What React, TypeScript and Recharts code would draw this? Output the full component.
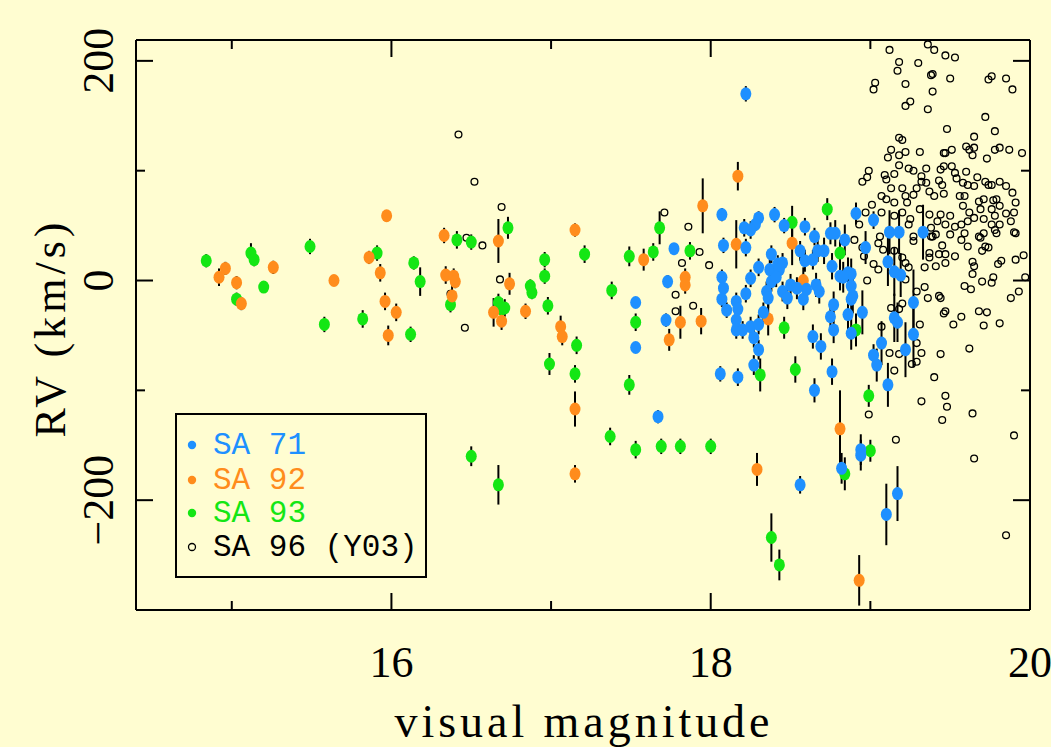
import { ScatterChart, Scatter, XAxis, YAxis, ErrorBar } from 'recharts'

const W = 1051
const H = 747
const BG = '#FFFDD1'
const BLUE = '#1E90FF'
const ORANGE = '#FF8C1C'
const GREEN = '#14E614'
const SERIF = '"Liberation Serif", "Times New Roman", serif'
const MONO = '"Liberation Mono", "Courier New", monospace'

// [visual magnitude, RV (km/s), RV error]
const SA71: number[][] = [
  [17.53, -20, 5], [17.53, -61, 5], [17.67, -124, 6], [17.72, -36, 6], [17.73, -1, 6], [17.77, 29, 5],
  [18.22, 170, 7], [18.07, 60, 6], [18.3, 57, 6], [18.28, 51, 6], [18.4, 60, 7], [18.59, 49, 8],
  [18.46, 50, 7], [18.91, 61, 10], [18.21, 48, 8], [18.08, 32, 7], [18.22, 30, 8], [18.25, 46, 8],
  [18.38, 24, 8], [18.3, 12, 8], [18.07, 3, 7], [18.25, 2, 8], [18.37, 10, 9], [18.42, 15, 8],
  [18.45, 16, 9], [18.56, 27, 9], [18.59, 18, 10], [18.64, 19, 9], [18.67, 27, 10], [18.71, 27, 12],
  [18.65, 40, 8], [18.75, 43, 10], [18.78, 43, 12], [18.84, 37, 14], [18.76, 13, 12], [18.81, 4, 13],
  [18.86, 7, 14], [18.88, 6, 14], [18.5, -4, 10], [18.54, -7, 10], [18.45, -10, 9], [18.38, -1, 9],
  [18.35, -10, 9], [18.36, -16, 9], [18.48, -16, 10], [18.58, -17, 10], [18.66, -4, 11], [18.68, -10, 11],
  [18.6, -8, 10], [18.08, -7, 7], [18.07, -17, 7], [18.1, -27, 7], [18.16, -19, 8], [18.17, -26, 8],
  [18.22, -12, 8], [18.33, -29, 9], [18.16, -36, 8], [18.16, -45, 8], [18.2, -45, 8], [18.25, -42, 9],
  [18.3, -40, 9], [18.27, -52, 9], [18.3, -63, 9], [18.27, -77, 9], [18.06, -85, 7], [18.17, -88, 8],
  [18.77, -22, 12], [18.75, -33, 12], [18.77, -45, 12], [18.64, -51, 11], [18.69, -60, 12], [18.86, -31, 15],
  [18.88, -48, 15], [18.88, -17, 15], [18.89, -14, 16], [18.88, -5, 15], [18.83, 3, 14], [18.76, -83, 12],
  [18.65, -100, 11], [18.43, 10, 9], [18.41, 3, 9], [18.56, -186, 8], [18.82, -171, 14], [18.94, -154, 14],
  [18.94, -159, 14], [18.97, 30, 15], [19.11, 17, 22], [19.15, 8, 22], [19.19, 5, 20], [19.27, -20, 30],
  [18.95, -29, 20], [19.15, -34, 22], [19.17, -38, 18], [19.27, -49, 30], [19.07, -57, 20], [19.02, -68, 10],
  [19.04, -77, 15], [19.22, -63, 25], [19.11, -95, 20], [19.17, -194, 25], [19.1, -213, 28], [19.02, 55, 8],
  [19.12, 44, 20], [19.18, 44, 20], [19.33, 44, 25],
]

const SA92: number[][] = [
  [14.92, 3, 8], [14.96, 11, 6], [15.03, -2, 6], [15.06, -21, 6], [15.26, 12, 6], [15.64, 0, 5],
  [15.97, 59, 5], [15.86, 21, 6], [15.93, 7, 8], [15.96, -19, 8], [16.03, -29, 8], [15.98, -50, 9],
  [16.33, 41, 7], [16.67, 36, 20], [17.15, 46, 6], [17.58, 19, 10], [17.95, 68, 25], [17.84, 3, 8],
  [17.84, -4, 8], [17.81, -38, 15], [17.94, -37, 12], [17.74, -54, 10], [16.34, 5, 8], [16.39, 4, 7],
  [16.4, -1, 6], [16.38, -14, 10], [16.74, -3, 10], [16.64, -29, 13], [16.69, -37, 8], [16.84, -28, 7],
  [17.06, -42, 10], [17.07, -51, 8], [17.15, -117, 16], [17.15, -176, 8], [18.17, 95, 13], [18.16, 33, 22],
  [18.51, 34, 20], [18.58, 0, 12], [18.36, -35, 15], [18.81, -135, 35], [18.29, -172, 15], [18.93, -273, 23],
]

const SA93: number[][] = [
  [14.84, 18, 6], [15.12, 25, 9], [15.14, 19, 6], [15.2, -6, 5], [15.03, -17, 6], [15.49, 31, 7],
  [15.58, -40, 7], [15.91, 25, 7], [15.82, -35, 8], [16.12, -49, 7], [16.14, 16, 6], [16.18, -1, 13],
  [16.41, 37, 8], [16.5, 35, 7], [16.73, 48, 10], [17.21, 24, 8], [17.49, 22, 9], [17.64, 26, 8],
  [17.68, 48, 15], [17.87, 27, 8], [17.53, -38, 8], [16.37, -22, 7], [16.87, -5, 6], [16.88, -11, 6],
  [16.96, 19, 7], [16.96, 4, 7], [16.67, -20, 8], [16.69, -26, 10], [16.71, -25, 8], [16.98, -23, 8],
  [17.38, -9, 8], [17.16, -59, 8], [16.99, -76, 10], [17.15, -85, 8], [17.49, -95, 9], [17.37, -142, 8],
  [17.53, -154, 8], [17.69, -151, 7], [17.81, -151, 7], [18.0, -151, 7], [16.5, -160, 9], [16.67, -186, 18],
  [18.51, 53, 15], [18.73, 65, 10], [18.81, 25, 12], [18.46, -43, 10], [18.53, -81, 12], [18.31, -86, 15],
  [18.91, -45, 15], [18.99, -105, 10], [19.0, -155, 10], [18.84, -176, 15], [18.38, -234, 22], [18.43, -259, 14],
]

// Y03 comparison sample: [visual magnitude, RV (km/s)]
const SA96: number[][] = [
  [16.42, 133], [16.52, 90], [16.69, 67], [16.47, 39], [16.57, 32], [16.37, -12], [16.46, -43], [16.68, 1],
  [17.71, 62], [17.86, 49], [17.93, 26], [17.82, 16], [17.99, 14], [17.78, -13], [17.89, -23], [17.78, -28],
  [18.9, 37], [18.95, 30], [18.96, 22], [18.98, 0], [18.93, 51],
  [19.16, -145], [19.65, -162], [19.9, -141], [19.85, -232], [19.45, -127],
  [19.34, -6], [19.36, -16], [19.2, -21], [19.13, -25], [19.18, -26], [19.43, -14], [19.44, -16], [19.46, -30],
  [19.47, -28], [19.52, -40], [19.57, -33], [19.68, -28], [19.73, -29], [19.71, -41], [19.81, -39], [19.88, -16],
  [19.93, -10], [19.97, 3], [19.96, 23], [19.91, 19], [19.31, -40], [19.29, -57], [19.32, -66], [19.29, -74],
  [19.26, -76], [19.44, -67], [19.62, -62], [19.4, -88], [19.12, -66], [19.18, -67], [19.15, -82], [19.47, -105],
  [19.48, -115], [19.32, -110], [19.64, -121], [18.99, -122], [19.07, -42], [19.59, -5], [19.63, -8], [19.7, -1],
  [19.76, -2], [19.77, 3], [19.8, 15], [19.82, 18], [19.65, 13], [19.64, 6], [19.53, 22], [19.47, 16],
  [19.41, 13], [19.37, 21], [19.34, 12], [19.24, 12], [19.2, 21], [19.02, 15], [19.05, 10], [19.22, 1], [19.29, -10],
  [19.06, 40], [19.05, 34], [19.27, 36], [19.38, 40], [19.41, 42], [19.45, 32], [19.37, 25], [19.43, 24],
  [19.47, 24], [19.57, 37], [19.61, 31], [19.69, 39], [19.72, 31], [19.74, 30], [19.79, 43], [19.91, 43],
  [19.64, 17], [19.7, 27], [19.22, 16], [19.15, 27], [19.08, 28],
  [19.36, 215], [19.4, 210], [19.12, 210], [19.47, 205], [19.53, 203], [19.18, 199], [19.17, 191], [19.3, 198],
  [19.03, 180], [19.02, 174], [19.22, 179], [19.38, 187], [19.39, 188], [19.5, 184], [19.39, 172], [19.22, 159],
  [19.25, 163], [19.36, 156], [19.74, 183], [19.76, 186], [19.85, 184], [19.89, 174], [19.72, 149], [19.48, 138],
  [19.78, 136], [19.65, 131], [19.18, 130], [19.2, 128], [19.13, 119], [19.11, 112], [19.18, 114], [19.22, 117],
  [19.31, 117], [19.46, 116], [19.47, 116], [19.51, 119], [19.6, 122], [19.62, 119], [19.65, 121], [19.64, 114],
  [19.73, 111], [19.78, 119], [19.81, 121], [19.87, 119], [19.95, 116], [19.18, 105], [19.24, 102], [19.27, 100],
  [19.35, 102], [19.44, 101], [19.51, 104], [19.46, 104], [18.99, 100], [18.98, 94], [18.95, 90], [19.09, 96],
  [19.15, 97], [19.1, 92], [19.32, 95], [19.32, 90], [19.35, 89], [19.43, 91], [19.45, 87], [19.53, 98],
  [19.54, 93], [19.6, 99], [19.58, 89], [19.61, 87], [19.65, 86], [19.67, 94], [19.72, 90], [19.74, 87],
  [19.76, 87], [19.81, 90], [19.85, 86], [19.89, 80], [19.13, 84], [19.2, 84], [19.29, 84], [19.27, 78],
  [19.37, 81], [19.4, 77], [19.46, 79], [19.07, 77], [19.1, 74], [19.15, 71], [19.22, 77], [19.23, 71],
  [19.56, 77], [19.59, 77], [19.68, 72], [19.71, 74], [19.77, 73], [19.79, 74], [19.91, 71], [19.01, 69],
  [18.97, 62], [19.58, 68], [19.62, 62], [19.69, 65], [19.76, 65], [19.81, 68], [19.85, 61], [19.9, 62],
  [19.78, 59], [19.71, 56], [19.65, 57], [19.5, 59], [19.44, 60], [19.37, 60], [19.31, 65], [19.25, 56],
  [19.2, 62], [19.15, 59], [19.07, 62], [19.02, 54], [19.24, 51], [19.38, 48], [19.42, 54], [19.47, 51],
  [19.53, 49], [19.57, 51], [19.61, 54], [19.76, 51], [19.81, 51], [19.88, 54], [19.9, 44], [19.78, 46],
  [19.71, 43], [19.68, 40], [19.59, 43], [19.5, 42], [19.39, 40], [19.27, 40],
]

const X_TICKS = [15, 16, 17, 18, 19, 20]
const X_LABELED = [16, 18, 20]
const Y_TICKS = [-200, -100, 0, 100, 200]
const Y_LABELED = [-200, 0, 200]

const toRows = (rows: number[][]) => rows.map(([mag, rv, err]) => ({ mag, rv, err }))

const LEGEND = [
  { name: 'SA 71', color: BLUE, open: false },
  { name: 'SA 92', color: ORANGE, open: false },
  { name: 'SA 93', color: GREEN, open: false },
  { name: 'SA 96 (Y03)', color: '#000', open: true },
]

const MAJOR = 17
const MINOR = 9

const filledDot = (color: string) => (p: any) => (
  <ellipse cx={p.cx} cy={p.cy} rx={5.5} ry={6.5} fill={color} />
)
const openDot = (p: any) => (
  <circle cx={p.cx} cy={p.cy} r={3.4} fill="none" stroke="#000" strokeWidth={1.3} />
)

function BottomTick({ x, y, payload }: any) {
  const major = X_LABELED.includes(payload.value)
  return (
    <g>
      <line x1={x} y1={y} x2={x} y2={y - (major ? MAJOR : MINOR)} stroke="#000" strokeWidth={2} />
      {major && (
        <text x={x} y={y + 67} textAnchor="middle" fontFamily={SERIF} fontSize={44} fill="#000">
          {payload.value}
        </text>
      )}
    </g>
  )
}

function TopTick({ x, y, payload }: any) {
  const major = X_LABELED.includes(payload.value)
  return <line x1={x} y1={y} x2={x} y2={y + (major ? MAJOR : MINOR)} stroke="#000" strokeWidth={2} />
}

function LeftTick({ x, y, payload }: any) {
  const major = Y_LABELED.includes(payload.value)
  const label = payload.value < 0 ? `\u2212${Math.abs(payload.value)}` : `${payload.value}`
  return (
    <g>
      <line x1={x} y1={y} x2={x + (major ? MAJOR : MINOR)} y2={y} stroke="#000" strokeWidth={2} />
      {major && (
        <text
          x={113}
          y={y}
          transform={`rotate(-90 113 ${y})`}
          textAnchor="middle"
          fontFamily={SERIF}
          fontSize={44}
          fill="#000"
        >
          {label}
        </text>
      )}
    </g>
  )
}

function RightTick({ x, y, payload }: any) {
  const major = Y_LABELED.includes(payload.value)
  return <line x1={x} y1={y} x2={x - (major ? MAJOR : MINOR)} y2={y} stroke="#000" strokeWidth={2} />
}

const axisLine = { stroke: '#000', strokeWidth: 2 }

export default function App() {
  return (
    <div style={{ position: 'absolute', left: 0, top: 0, width: W, height: H, background: BG }}>
      <ScatterChart width={W} height={H} margin={{ top: 39, right: 20, bottom: 136, left: 135 }}>
        <XAxis
          xAxisId="b"
          type="number"
          dataKey="mag"
          domain={[14.4, 20]}
          allowDataOverflow
          ticks={X_TICKS}
          interval={0}
          height={1}
          tickLine={false}
          tickSize={0}
          tickMargin={0}
          axisLine={axisLine}
          tick={(p: any) => <BottomTick {...p} />}
        />
        <XAxis
          xAxisId="t"
          orientation="top"
          type="number"
          dataKey="mag"
          domain={[14.4, 20]}
          allowDataOverflow
          ticks={X_TICKS}
          interval={0}
          height={1}
          tickLine={false}
          tickSize={0}
          tickMargin={0}
          axisLine={axisLine}
          tick={(p: any) => <TopTick {...p} />}
        />
        <YAxis
          yAxisId="l"
          type="number"
          dataKey="rv"
          domain={[-300, 219]}
          allowDataOverflow
          ticks={Y_TICKS}
          interval={0}
          width={1}
          tickLine={false}
          tickSize={0}
          tickMargin={0}
          axisLine={axisLine}
          tick={(p: any) => <LeftTick {...p} />}
        />
        <YAxis
          yAxisId="r"
          orientation="right"
          type="number"
          dataKey="rv"
          domain={[-300, 219]}
          allowDataOverflow
          ticks={Y_TICKS}
          interval={0}
          width={1}
          tickLine={false}
          tickSize={0}
          tickMargin={0}
          axisLine={axisLine}
          tick={(p: any) => <RightTick {...p} />}
        />
        <Scatter
          name="SA 96 (Y03)"
          xAxisId="t"
          yAxisId="r"
          data={toRows(SA96)}
          shape={openDot}
          isAnimationActive={false}
        />
        <Scatter name="SA 93" xAxisId="b" yAxisId="l" data={toRows(SA93)} shape={filledDot(GREEN)} isAnimationActive={false}>
          <ErrorBar dataKey="err" direction="y" width={0} stroke="#000" strokeWidth={2} />
        </Scatter>
        <Scatter name="SA 92" xAxisId="b" yAxisId="l" data={toRows(SA92)} shape={filledDot(ORANGE)} isAnimationActive={false}>
          <ErrorBar dataKey="err" direction="y" width={0} stroke="#000" strokeWidth={2} />
        </Scatter>
        <Scatter name="SA 71" xAxisId="b" yAxisId="l" data={toRows(SA71)} shape={filledDot(BLUE)} isAnimationActive={false}>
          <ErrorBar dataKey="err" direction="y" width={0} stroke="#000" strokeWidth={2} />
        </Scatter>
        <text
          x={50}
          y={330}
          transform="rotate(-90 50 330)"
          textAnchor="middle"
          dominantBaseline="central"
          fontFamily={SERIF}
          fontSize={44}
          textLength={215}
          fill="#000"
        >
          RV (km/s)
        </text>
        <text x={582} y={737} textAnchor="middle" fontFamily={SERIF} fontSize={46} textLength={375} fill="#000">
          visual magnitude
        </text>
      </ScatterChart>
      <svg
        width={252}
        height={165}
        style={{ position: 'absolute', left: 175, top: 413 }}
      >
        <rect x={1} y={1} width={250} height={163} fill={BG} stroke="#000" strokeWidth={2} />
        {LEGEND.map((e, i) => {
          const cy = [32, 67, 100, 134][i]
          return (
            <g key={e.name}>
              {e.open ? (
                <circle cx={17} cy={cy} r={3.5} fill="none" stroke="#000" strokeWidth={1.3} />
              ) : (
                <circle cx={17} cy={cy} r={4.2} fill={e.color} />
              )}
              <text x={38} y={cy} dominantBaseline="central" fontFamily={MONO} fontSize={31} fill={e.color}>
                {e.name}
              </text>
            </g>
          )
        })}
      </svg>
    </div>
  )
}
